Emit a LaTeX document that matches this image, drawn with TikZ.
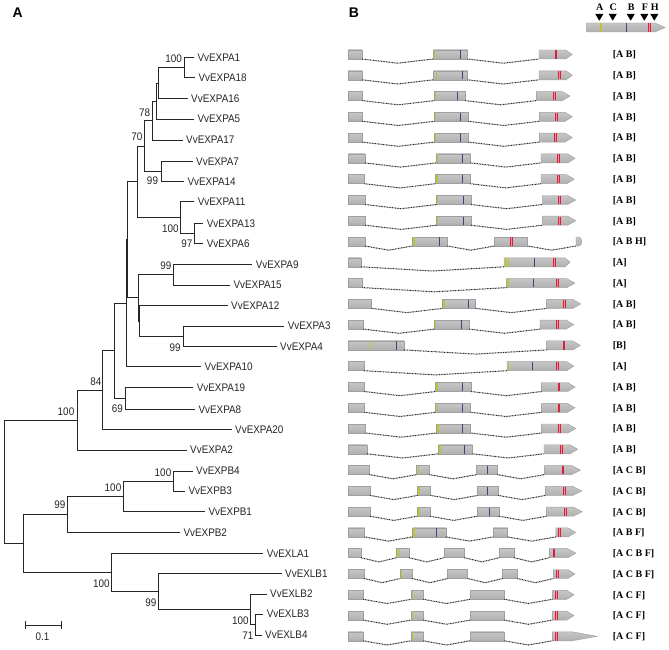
\documentclass[tikz,border=0pt]{standalone}
\usepackage{fontspec}
\setmainfont{Liberation Serif}
\newfontfamily\treefont[FakeStretch=0.9]{Liberation Sans}
\newfontfamily\panelfont{Liberation Sans}
\usetikzlibrary{calc}
\definecolor{ymkc}{rgb}{0.74,0.77,0.22}
\definecolor{bmkc}{rgb}{0.24,0.26,0.50}
\definecolor{rmkc}{rgb}{0.86,0.12,0.24}
\definecolor{rfillc}{rgb}{0.95,0.55,0.60}
\tikzset{
  br/.style={line width=0.9pt, black!85},
  leaflab/.style={anchor=west, inner sep=0pt, xshift=3.3pt, font=\treefont\fontsize{11}{12}\selectfont, text height=7.9pt, text depth=0pt, black!85},
  boot/.style={inner sep=0pt, font=\treefont\fontsize{11}{12}\selectfont, text height=7.9pt, text depth=0pt, black!85},
  exon/.style={top color=gray!45, middle color=gray!6, bottom color=gray!62, draw=gray!75, line width=0.45pt},
  intron/.style={line width=1pt, black!85, dash pattern=on 0.9pt off 0.7pt},
  ymk/.style={ymkc, line width=1.2pt},
  bmk/.style={bmkc, line width=0.9pt},
  rmk/.style={rmkc, line width=0.75pt},
  rowlab/.style={anchor=west, inner sep=0pt, font=\bfseries\fontsize{10}{12}\selectfont, text height=6.6pt, text depth=0pt},
  panel/.style={inner sep=0pt, font=\panelfont\bfseries\fontsize{14}{16}\selectfont},
  tri/.style={fill=black},
}
\newcommand\gEx[4]{\path[exon] (#2,#4-4.5) rectangle (#3,#4+4.5);
  \coordinate (#1l) at (#2,#4+4.5); \coordinate (#1r) at (#3,#4+4.5);}
\newcommand\gAr[5]{\path[exon] (#2,#5-4.5) -- (#3,#5-4.5) -- (#4,#5) -- (#3,#5+4.5) -- (#2,#5+4.5) -- cycle;
  \coordinate (#1l) at (#2,#5+4.5);}
\newcommand\gDe[4]{\path[exon] (#2,#4-4.5) -- (#3-3,#4-4.5) .. controls (#3+1,#4-4.5) and (#3+1,#4+4.5) .. (#3-3,#4+4.5) -- (#2,#4+4.5) -- cycle;
  \coordinate (#1l) at (#2,#4+4.5);}
\newcommand\gIn[2]{\draw[intron] (#1r) -- ($(#1r)!0.5!(#2l)+(0,4.2)$) -- (#2l);}
\newcommand\gY[2]{\draw[ymk] (#1,#2-4.2) -- (#1,#2+4.2);}
\newcommand\gB[2]{\draw[bmk] (#1,#2-4.2) -- (#1,#2+4.2);}
\newcommand\gR[2]{\fill[rfillc] (#1-1.3,#2-4.2) rectangle (#1+1.3,#2+4.2);
  \draw[rmk] (#1-0.85,#2-4.2) -- (#1-0.85,#2+4.2) (#1+0.85,#2-4.2) -- (#1+0.85,#2+4.2);}
\begin{document}
\begin{tikzpicture}[x=1pt,y=-1pt]
\useasboundingbox[fill=white] (0,0) rectangle (669,650);
% panel letters
\node[panel] (pA) at (17.8,12.3) {A};
\node[panel] (pB) at (354,12.3) {B};
% ---------------- tree: leaves
\coordinate (L1) at (194,57.7);
\coordinate (L2) at (195,77.7);
\coordinate (L3) at (187.7,98.7);
\coordinate (L4) at (194,119);
\coordinate (L5) at (182.7,140);
\coordinate (L6) at (192.7,161.7);
\coordinate (L7) at (184,181.7);
\coordinate (L8) at (194.3,201.7);
\coordinate (L9) at (203.3,223.3);
\coordinate (L10) at (203.3,243.3);
\coordinate (L11) at (252.3,264.3);
\coordinate (L12) at (230,285);
\coordinate (L13) at (227.7,305.7);
\coordinate (L14) at (284.3,326);
\coordinate (L15) at (276.7,346.7);
\coordinate (L16) at (201,366.7);
\coordinate (L17) at (193.3,387.7);
\coordinate (L18) at (195,409.3);
\coordinate (L19) at (231.7,429.3);
\coordinate (L20) at (186.7,450);
\coordinate (L21) at (192.7,471);
\coordinate (L22) at (185,491);
\coordinate (L23) at (205,511.7);
\coordinate (L24) at (180,532.7);
\coordinate (L25) at (263.3,553.3);
\coordinate (L26) at (281.7,573.3);
\coordinate (L27) at (266.7,594);
\coordinate (L28) at (263.3,614);
\coordinate (L29) at (261.7,635);
% internal nodes
\coordinate (a1) at (184.3,67.7);
\coordinate (a2) at (158.3,83.2);
\coordinate (a3) at (156.7,101.1);
\coordinate (a4) at (152.3,120.6);
\coordinate (a5) at (161,171.7);
\coordinate (a6) at (144.7,146.1);
\coordinate (a7) at (194.3,233.3);
\coordinate (a8) at (180.3,217.5);
\coordinate (a9) at (137.7,181.8);
\coordinate (a10) at (173.7,274.7);
\coordinate (a11) at (183.7,336.3);
\coordinate (a12) at (139.3,321);
\coordinate (a13) at (138.3,297.8);
\coordinate (a14) at (127.7,239.8);
\coordinate (a15) at (126.7,303.2);
\coordinate (a16) at (125.3,398.5);
\coordinate (a17) at (114.3,350.9);
\coordinate (a18) at (102.7,390.1);
\coordinate (a19) at (77.3,420);
\coordinate (a20) at (173.3,481);
\coordinate (a21) at (123.3,496.3);
\coordinate (a22) at (67.7,514.5);
\coordinate (a23) at (255,624.5);
\coordinate (a24) at (250,609.3);
\coordinate (a25) at (158.3,591.3);
\coordinate (a26) at (111,572.3);
\coordinate (a27) at (23.3,543.4);
\coordinate (a28) at (4,481.7);
% branches
\foreach \p/\c in {a1/L1,a1/L2,a2/a1,a2/L3,a3/a2,a3/L4,a4/a3,a4/L5,a5/L6,a5/L7,a6/a4,a6/a5,
  a7/L9,a7/L10,a8/L8,a8/a7,a9/a6,a9/a8,a10/L11,a10/L12,a11/L14,a11/L15,a12/L13,a12/a11,
  a13/a10,a13/a12,a14/a9,a14/a13,a15/a14,a15/L16,a16/L17,a16/L18,a17/a15,a17/a16,
  a18/a17,a18/L19,a19/a18,a19/L20,a20/L21,a20/L22,a21/a20,a21/L23,a22/a21,a22/L24,
  a23/L28,a23/L29,a24/L27,a24/a23,a25/L26,a25/a24,a26/L25,a26/a25,a27/a22,a27/a26,
  a28/a19,a28/a27}
  \draw[br] (\p) |- (\c);
% leaf labels
\node[leaflab] (t1) at (L1) {VvEXPA1};
\node[leaflab] (t2) at (L2) {VvEXPA18};
\node[leaflab] (t3) at (L3) {VvEXPA16};
\node[leaflab] (t4) at (L4) {VvEXPA5};
\node[leaflab] (t5) at (L5) {VvEXPA17};
\node[leaflab] (t6) at (L6) {VvEXPA7};
\node[leaflab] (t7) at (L7) {VvEXPA14};
\node[leaflab] (t8) at (L8) {VvEXPA11};
\node[leaflab] (t9) at (L9) {VvEXPA13};
\node[leaflab] (t10) at (L10) {VvEXPA6};
\node[leaflab] (t11) at (L11) {VvEXPA9};
\node[leaflab] (t12) at (L12) {VvEXPA15};
\node[leaflab] (t13) at (L13) {VvEXPA12};
\node[leaflab] (t14) at (L14) {VvEXPA3};
\node[leaflab] (t15) at (L15) {VvEXPA4};
\node[leaflab] (t16) at (L16) {VvEXPA10};
\node[leaflab] (t17) at (L17) {VvEXPA19};
\node[leaflab] (t18) at (L18) {VvEXPA8};
\node[leaflab] (t19) at (L19) {VvEXPA20};
\node[leaflab] (t20) at (L20) {VvEXPA2};
\node[leaflab] (t21) at (L21) {VvEXPB4};
\node[leaflab] (t22) at (L22) {VvEXPB3};
\node[leaflab] (t23) at (L23) {VvEXPB1};
\node[leaflab] (t24) at (L24) {VvEXPB2};
\node[leaflab] (t25) at (L25) {VvEXLA1};
\node[leaflab] (t26) at (L26) {VvEXLB1};
\node[leaflab] (t27) at (L27) {VvEXLB2};
\node[leaflab] (t28) at (L28) {VvEXLB3};
\node[leaflab] (t29) at (L29) {VvEXLB4};
% bootstrap values
\node[boot] (b1) at (173.7,59) {100};
\node[boot] (b2) at (144.7,112.5) {78};
\node[boot] (b3) at (136.8,137) {70};
\node[boot] (b4) at (152.5,181) {99};
\node[boot] (b5) at (170.3,228.3) {100};
\node[boot] (b6) at (186.8,243.8) {97};
\node[boot] (b7) at (165.8,265.5) {99};
\node[boot] (b8) at (175.2,347.2) {99};
\node[boot] (b9) at (95.8,381.7) {84};
\node[boot] (b10) at (117.5,408.8) {69};
\node[boot] (b11) at (66,411.7) {100};
\node[boot] (b12) at (163,472.2) {100};
\node[boot] (b13) at (113,487.2) {100};
\node[boot] (b14) at (60,505) {99};
\node[boot] (b15) at (101.3,583.3) {100};
\node[boot] (b16) at (150.8,602.8) {99};
\node[boot] (b17) at (240.3,621) {100};
\node[boot] (b18) at (247.8,635.3) {71};
% scale bar
\coordinate (s1) at (25,625);
\coordinate (s2) at (61.7,625);
\draw[br] (s1) -- (s2);
\draw[br] ($(s1)+(0,-4)$) -- ($(s1)+(0,4)$);
\draw[br] ($(s2)+(0,-4)$) -- ($(s2)+(0,4)$);
\node[boot] (sl) at (42.5,637) {0.1};
% ---------------- legend
\gAr{lg}{586.7}{655}{665}{27.5}
\gY{601}{27.5}\gB{626}{27.5}\gR{649.3}{27.5}
\foreach \xx/\nm in {599.3/A,612.7/C,630.7/B,644.3/F,654.3/H}{
  \fill[tri] (\xx-4,14) -- (\xx+4,14) -- (\xx,20.7) -- cycle;
  \node[inner sep=0pt, font=\bfseries\fontsize{10}{12}\selectfont, text height=6.6pt, text depth=0pt] (lt\nm) at (\xx+0.5,7) {\nm};
}
% ---------------- gene structures
% row 1
\gEx{r1a}{348.3}{362}{54.5}\gEx{r1b}{433.3}{467.5}{54.5}\gAr{r1c}{539}{565.5}{572.3}{54.5}
\gIn{r1a}{r1b}\gIn{r1b}{r1c}
\gY{434.5}{54.5}\gB{460}{54.5}\gR{556}{54.5}
\node[rowlab] (g1) at (612.7,54.5) {[A B]};
% row 2
\gEx{r2a}{348.3}{362}{75.3}\gEx{r2b}{433.3}{467.5}{75.3}\gAr{r2c}{539}{566}{572.3}{75.3}
\gIn{r2a}{r2b}\gIn{r2b}{r2c}
\gY{436.7}{75.3}\gB{462.3}{75.3}\gR{559.3}{75.3}
\node[rowlab] (g2) at (612.7,75.3) {[A B]};
% row 3
\gEx{r3a}{348.3}{362.3}{96.1}\gEx{r3b}{434.3}{465}{96.1}\gAr{r3c}{536.3}{562.3}{570}{96.1}
\gIn{r3a}{r3b}\gIn{r3b}{r3c}
\gY{435.3}{96.1}\gB{457.7}{96.1}\gR{554.3}{96.1}
\node[rowlab] (g3) at (612.7,96.1) {[A B]};
% row 4
\gEx{r4a}{348.3}{362.3}{116.8}\gEx{r4b}{434.3}{468.3}{116.8}\gAr{r4c}{539.3}{565}{572.3}{116.8}
\gIn{r4a}{r4b}\gIn{r4b}{r4c}
\gY{435.3}{116.8}\gB{460}{116.8}\gR{556.7}{116.8}
\node[rowlab] (g4) at (612.7,116.8) {[A B]};
% row 5
\gEx{r5a}{348.3}{362.3}{137.6}\gEx{r5b}{434.3}{468.3}{137.6}\gAr{r5c}{539.3}{565}{572.3}{137.6}
\gIn{r5a}{r5b}\gIn{r5b}{r5c}
\gY{435.7}{137.6}\gB{460}{137.6}\gR{555.7}{137.6}
\node[rowlab] (g5) at (612.7,137.6) {[A B]};
% row 6
\gEx{r6a}{348.3}{365}{158.4}\gEx{r6b}{436}{470.7}{158.4}\gAr{r6c}{541}{567.7}{575}{158.4}
\gIn{r6a}{r6b}\gIn{r6b}{r6c}
\gY{437.3}{158.4}\gB{462.3}{158.4}\gR{558.3}{158.4}
\node[rowlab] (g6) at (612.7,158.4) {[A B]};
% row 7
\gEx{r7a}{348.3}{364.3}{179.2}\gEx{r7b}{435.7}{470}{179.2}\gAr{r7c}{541}{566.7}{574.3}{179.2}
\gIn{r7a}{r7b}\gIn{r7b}{r7c}
\gY{437}{179.2}\gB{462.3}{179.2}\gR{558.7}{179.2}
\node[rowlab] (g7) at (612.7,179.2) {[A B]};
% row 8
\gEx{r8a}{348.3}{365}{200}\gEx{r8b}{436.7}{471}{200}\gAr{r8c}{542.3}{567.7}{575.7}{200}
\gIn{r8a}{r8b}\gIn{r8b}{r8c}
\gY{437.7}{200}\gB{463.3}{200}\gR{559.7}{200}
\node[rowlab] (g8) at (612.7,200) {[A B]};
% row 9
\gEx{r9a}{348.3}{365}{220.7}\gEx{r9b}{436.7}{471}{220.7}\gAr{r9c}{542.3}{567.7}{575.7}{220.7}
\gIn{r9a}{r9b}\gIn{r9b}{r9c}
\gY{437.7}{220.7}\gB{463.3}{220.7}\gR{559.3}{220.7}
\node[rowlab] (g9) at (612.7,220.7) {[A B]};
% row 10
\gEx{r10a}{348.3}{365}{241.5}\gEx{r10b}{412.3}{447.3}{241.5}\gEx{r10c}{494.3}{527.7}{241.5}\gDe{r10d}{576}{581.7}{241.5}
\gIn{r10a}{r10b}\gIn{r10b}{r10c}\gIn{r10c}{r10d}
\gY{414}{241.5}\gB{439.3}{241.5}\gR{511.7}{241.5}
\node[rowlab] (g10) at (612.7,241.5) {[A B H]};
% row 11
\gEx{r11a}{348.3}{361}{262.3}\gAr{r11b}{504}{565}{570}{262.3}
\gIn{r11a}{r11b}
\gY{506}{262.3}\gY{508.4}{262.3}\gB{534}{262.3}\gR{554.3}{262.3}
\node[rowlab] (g11) at (612.7,262.3) {[A]};
% row 12
\gEx{r12a}{348.3}{362.3}{283.1}\gAr{r12b}{506.7}{566.7}{575}{283.1}
\gIn{r12a}{r12b}
\gY{507.9}{283.1}\gB{533.3}{283.1}\gR{557.3}{283.1}
\node[rowlab] (g12) at (612.7,283.1) {[A]};
% row 13
\gEx{r13a}{348.3}{371.7}{303.9}\gEx{r13b}{442.3}{475.7}{303.9}\gAr{r13c}{546.7}{572.7}{580.7}{303.9}
\gIn{r13a}{r13b}\gIn{r13b}{r13c}
\gY{444}{303.9}\gB{468.3}{303.9}\gR{564.3}{303.9}
\node[rowlab] (g13) at (612.7,303.9) {[A B]};
% row 14
\gEx{r14a}{348.3}{363.3}{324.6}\gEx{r14b}{434.3}{469}{324.6}\gAr{r14c}{540}{566}{573.7}{324.6}
\gIn{r14a}{r14b}\gIn{r14b}{r14c}
\gY{435.7}{324.6}\gB{461.7}{324.6}\gR{557.7}{324.6}
\node[rowlab] (g14) at (612.7,324.6) {[A B]};
% row 15
\gEx{r15a}{348.3}{404}{345.4}\gAr{r15b}{546.7}{572.7}{580.3}{345.4}
\gIn{r15a}{r15b}
\gY{370.7}{345.4}\gB{396}{345.4}\gR{564}{345.4}
\node[rowlab] (g15) at (612.7,345.4) {[B]};
% row 16
\gEx{r16a}{348.3}{364}{366.2}\gAr{r16b}{507}{566.7}{573.7}{366.2}
\gIn{r16a}{r16b}
\gY{508.5}{366.2}\gB{532.7}{366.2}\gR{557.3}{366.2}
\node[rowlab] (g16) at (612.7,366.2) {[A]};
% row 17
\gEx{r17a}{348.3}{364.3}{387}\gEx{r17b}{435.7}{471}{387}\gAr{r17c}{541.7}{567.7}{575}{387}
\gIn{r17a}{r17b}\gIn{r17b}{r17c}
\gY{437}{387}\gB{462.7}{387}\gR{559}{387}
\node[rowlab] (g17) at (612.7,387) {[A B]};
% row 18
\gEx{r18a}{348.3}{364.3}{407.8}\gEx{r18b}{435.7}{470.7}{407.8}\gAr{r18c}{541.7}{567.3}{575}{407.8}
\gIn{r18a}{r18b}\gIn{r18b}{r18c}
\gY{437.3}{407.8}\gB{462.3}{407.8}\gR{559}{407.8}
\node[rowlab] (g18) at (612.7,407.8) {[A B]};
% row 19
\gEx{r19a}{348.3}{365.7}{428.5}\gEx{r19b}{436.7}{470.7}{428.5}\gAr{r19c}{541.7}{567.7}{575.7}{428.5}
\gIn{r19a}{r19b}\gIn{r19b}{r19c}
\gY{438}{428.5}\gB{462.3}{428.5}\gR{559.3}{428.5}
\node[rowlab] (g19) at (612.7,428.5) {[A B]};
% row 20
\gEx{r20a}{348.3}{367}{449.3}\gEx{r20b}{438.3}{472.7}{449.3}\gAr{r20c}{544}{570}{577.5}{449.3}
\gIn{r20a}{r20b}\gIn{r20b}{r20c}
\gY{440}{449.3}\gB{464.5}{449.3}\gR{561.7}{449.3}
\node[rowlab] (g20) at (612.7,449.3) {[A B]};
% row 21
\gEx{r21a}{348.3}{369.3}{470.1}\gEx{r21b}{416.7}{429.3}{470.1}\gEx{r21c}{476.7}{497.3}{470.1}\gAr{r21d}{544.3}{571.7}{580.5}{470.1}
\gIn{r21a}{r21b}\gIn{r21b}{r21c}\gIn{r21c}{r21d}
\gY{418.3}{470.1}\gB{487}{470.1}\gR{563}{470.1}
\node[rowlab] (g21) at (612.7,470.1) {[A C B]};
% row 22
\gEx{r22a}{348.3}{370}{490.9}\gEx{r22b}{417.7}{430.7}{490.9}\gEx{r22c}{477.7}{498.3}{490.9}\gAr{r22d}{545.7}{572.7}{581.7}{490.9}
\gIn{r22a}{r22b}\gIn{r22b}{r22c}\gIn{r22c}{r22d}
\gY{419}{490.9}\gB{487.7}{490.9}\gR{564.3}{490.9}
\node[rowlab] (g22) at (612.7,490.9) {[A C B]};
% row 23
\gEx{r23a}{348.3}{370}{511.7}\gEx{r23b}{417.3}{430}{511.7}\gEx{r23c}{477.3}{499}{511.7}\gAr{r23d}{546.7}{573.3}{582.3}{511.7}
\gIn{r23a}{r23b}\gIn{r23b}{r23c}\gIn{r23c}{r23d}
\gY{419}{511.7}\gB{489}{511.7}\gR{565.7}{511.7}
\node[rowlab] (g23) at (612.7,511.7) {[A C B]};
% row 24
\gEx{r24a}{348.3}{364.5}{532.4}\gEx{r24b}{412.5}{445.8}{532.4}\gEx{r24c}{493.3}{507.7}{532.4}\gAr{r24d}{555.8}{568}{575.5}{532.4}
\gIn{r24a}{r24b}\gIn{r24b}{r24c}\gIn{r24c}{r24d}
\gY{414}{532.4}\gB{436}{532.4}\gR{559.5}{532.4}
\node[rowlab] (g24) at (612.7,532.4) {[A B F]};
% row 25
\gEx{r25a}{348.3}{361}{553.2}\gEx{r25b}{396.7}{409}{553.2}\gEx{r25c}{444.3}{464.3}{553.2}\gEx{r25d}{499.3}{514}{553.2}\gAr{r25e}{549.3}{567.7}{576}{553.2}
\gIn{r25a}{r25b}\gIn{r25b}{r25c}\gIn{r25c}{r25d}\gIn{r25d}{r25e}
\gY{397.8}{553.2}\gY{399.3}{553.2}\gR{554}{553.2}
\node[rowlab] (g25) at (612.7,553.2) {[A C B F]};
% row 26
\gEx{r26a}{348.3}{364.3}{574}\gEx{r26b}{400}{412.3}{574}\gEx{r26c}{447.7}{467.7}{574}\gEx{r26d}{502.7}{517.3}{574}\gAr{r26e}{553.3}{567.7}{575}{574}
\gIn{r26a}{r26b}\gIn{r26b}{r26c}\gIn{r26c}{r26d}\gIn{r26d}{r26e}
\gY{401.2}{574}\gR{557.3}{574}
\node[rowlab] (g26) at (612.7,574) {[A C B F]};
% row 27
\gEx{r27a}{348.3}{363.3}{594.8}\gEx{r27b}{411}{423.3}{594.8}\gEx{r27c}{470}{504.3}{594.8}\gAr{r27d}{552.3}{566.7}{574}{594.8}
\gIn{r27a}{r27b}\gIn{r27b}{r27c}\gIn{r27c}{r27d}
\gY{412.4}{594.8}\gR{556.3}{594.8}
\node[rowlab] (g27) at (612.7,594.8) {[A C F]};
% row 28
\gEx{r28a}{348.3}{363.3}{615.6}\gEx{r28b}{411}{423.3}{615.6}\gEx{r28c}{470}{504.3}{615.6}\gAr{r28d}{552.3}{566.7}{574}{615.6}
\gIn{r28a}{r28b}\gIn{r28b}{r28c}\gIn{r28c}{r28d}
\gY{412.4}{615.6}\gR{556.3}{615.6}
\node[rowlab] (g28) at (612.7,615.6) {[A C F]};
% row 29
\gEx{r29a}{348.3}{363.3}{636.3}\gEx{r29b}{411}{423.3}{636.3}\gEx{r29c}{470}{504.3}{636.3}\gAr{r29d}{552.3}{572}{597}{636.3}
\gIn{r29a}{r29b}\gIn{r29b}{r29c}\gIn{r29c}{r29d}
\gY{412.4}{636.3}\gR{556.3}{636.3}
\node[rowlab] (g29) at (612.7,636.3) {[A C F]};
\end{tikzpicture}
\end{document}
